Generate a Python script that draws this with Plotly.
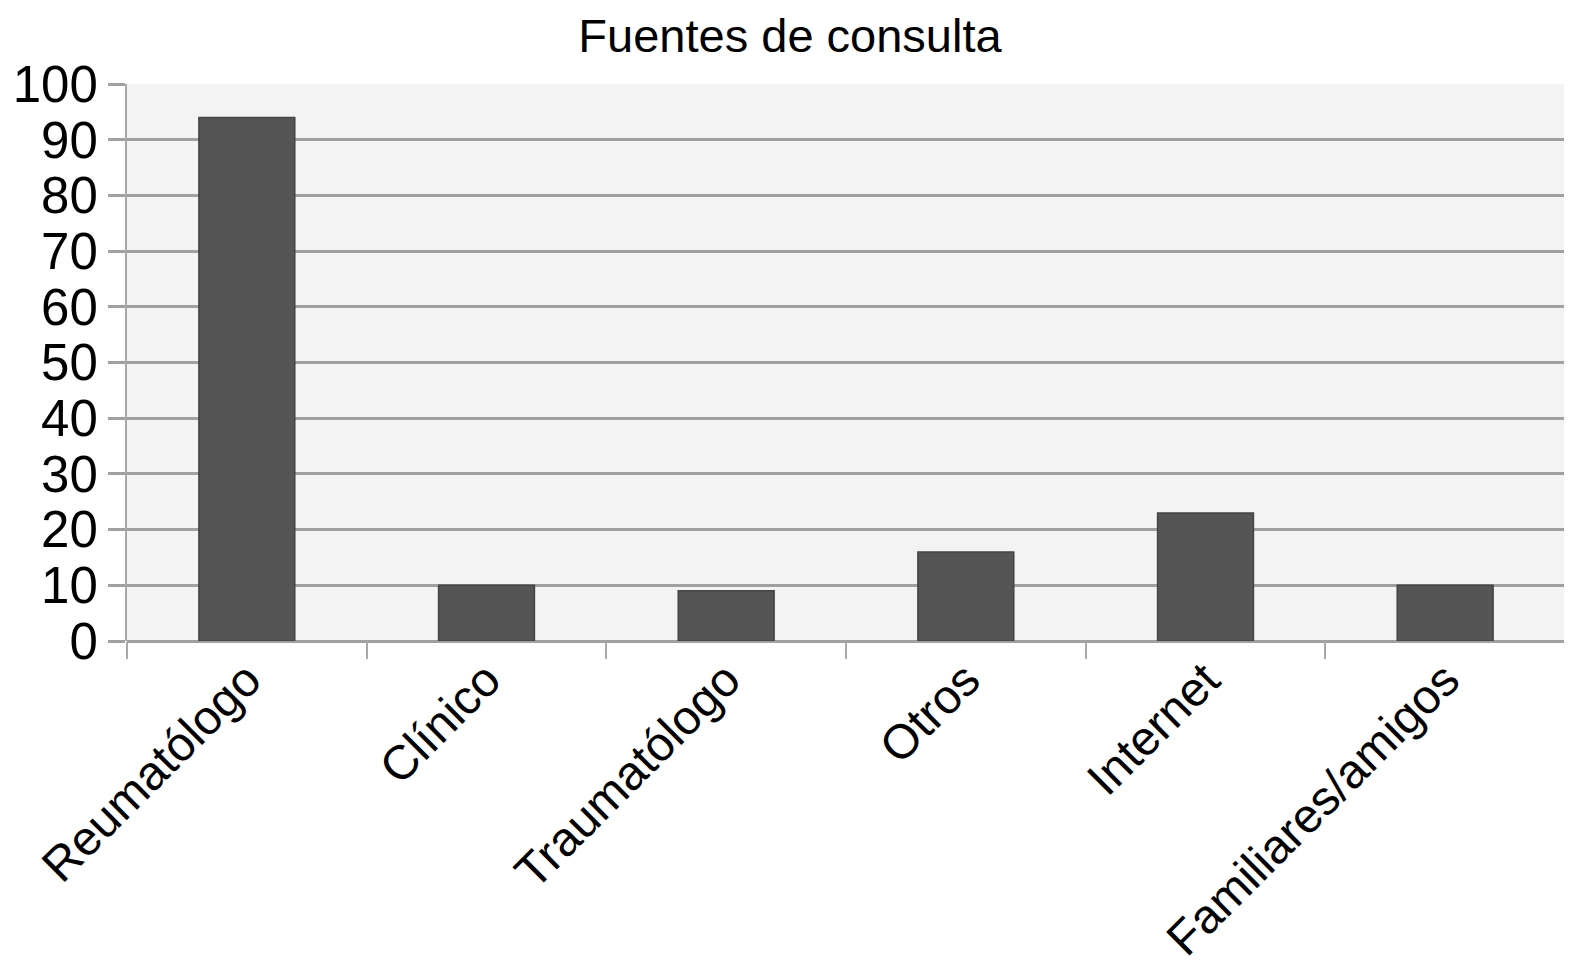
import plotly.graph_objects as go

categories = ["Reumatólogo", "Clínico", "Traumatólogo", "Otros", "Internet", "Familiares/amigos"]
values = [94, 10, 9, 16, 23, 10]
y_ticks = [0, 10, 20, 30, 40, 50, 60, 70, 80, 90, 100]

font_family = "Liberation Sans, Arial, Helvetica, sans-serif"

fig = go.Figure(
    go.Bar(
        x=categories,
        y=values,
        marker=dict(color="#555555", line=dict(color="#444444", width=1.5)),
        width=0.4,
    )
)

W, H = 1564, 957
fig.update_layout(
    width=W,
    height=H,
    margin=dict(l=119, r=7, t=76, b=324, autoexpand=False),
    paper_bgcolor="white",
    plot_bgcolor="#f3f3f3",
    showlegend=False,
    font=dict(family=font_family, color="black", size=48),
    title=dict(
        text="Fuentes de consulta",
        x=0.5,
        xref="container",
        xanchor="center",
        y=1 - 28 / H,
        yref="container",
        yanchor="middle",
        font=dict(family=font_family, size=47, color="black"),
    ),
)

fig.update_yaxes(
    range=[0, 100],
    tickvals=y_ticks,
    ticktext=[str(v) for v in y_ticks],
    showgrid=True,
    gridcolor="#a0a0a0",
    gridwidth=3,
    zeroline=True,
    zerolinecolor="#a0a0a0",
    zerolinewidth=3,
    showline=True,
    linecolor="#a8a8a8",
    linewidth=2,
    ticks="outside",
    ticklen=17,
    tickwidth=3,
    tickcolor="#a0a0a0",
    tickfont=dict(size=51, family=font_family, color="black"),
    fixedrange=True,
)

fig.update_xaxes(
    tickangle=-45,
    tickson="boundaries",
    ticks="outside",
    ticklen=17,
    tickwidth=2,
    tickcolor="#a8a8a8",
    showline=False,
    showgrid=False,
    tickfont=dict(size=48, family=font_family, color="black"),
    fixedrange=True,
)

fig.write_html("out.html")
